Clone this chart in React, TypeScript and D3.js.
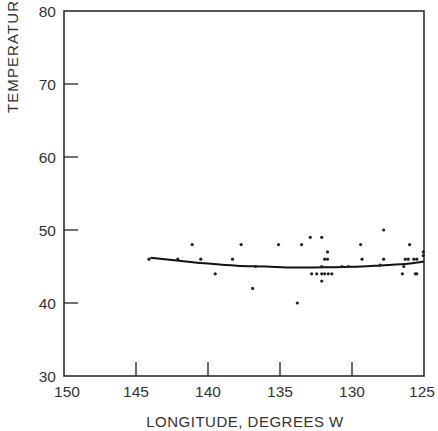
import React from "react";
import * as d3 from "d3";

const xTicks = [150, 145, 140, 135, 130, 125];
const yTicks = [30, 40, 50, 60, 70, 80];

const obsLon = [144.1, 141.1, 142.1, 140.5, 139.5, 138.3, 137.7, 135.1, 136.7, 136.9, 133.8, 133.5, 132.9, 132.1, 131.7, 131.9, 131.7, 132.1, 132.8, 132.45, 132.1, 131.9, 131.65, 131.4, 132.1, 130.7, 130.25, 129.4, 129.3, 127.8, 127.8, 128.05, 126.0, 126.4, 126.5, 126.3, 126.1, 125.7, 125.5, 125.6, 125.5, 125.05, 125.05];
const obsTemp = [46, 48, 46, 46, 44, 46, 48, 48, 45, 42, 40, 48, 49, 49, 47, 46, 46, 45, 44, 44, 44, 44, 44, 44, 43, 45, 45, 48, 46, 50, 46, 45.2, 48, 45, 44, 46, 46, 46, 46, 44, 44, 47, 46.5];

const fitLon = [144, 143, 142, 140, 138, 136, 134, 132, 130, 128, 126, 125];
const fitTemp = [46.2, 46.0, 45.8, 45.4, 45.1, 45.0, 44.85, 44.9, 44.95, 45.15, 45.4, 45.7];

export default function App() {
  const W = 438, H = 431;
  const x = d3.scaleLinear().domain([150, 125]).range([64, 424]);
  const y = d3.scaleLinear().domain([30, 80]).range([376, 11]);
  const line = d3
    .line<number>()
    .x((_, i) => x(fitLon[i]))
    .y((d) => y(d))
    .curve(d3.curveMonotoneX);
  const font = "'Liberation Sans', Arial, sans-serif";
  const tick = 14;
  return (
    <svg width={W} height={H} style={{ position: "absolute", left: 0, top: 0, background: "#fff" }}>
      <rect x={0} y={0} width={W} height={H} fill="#fff" />
      <rect x={x(150)} y={y(80)} width={x(125) - x(150)} height={y(30) - y(80)} fill="none" stroke="#222" strokeWidth={1.5} />
      {yTicks.map((t) => (
        <g key={"y" + t}>
          {t !== 30 && t !== 80 && (
            <line x1={x(150)} x2={x(150) + tick} y1={y(t)} y2={y(t)} stroke="#222" strokeWidth={1.3} />
          )}
          <text x={56} y={y(t)} dy="0.36em" textAnchor="end" fontFamily={font} fontSize={15.5} fill="#333">
            {t}
          </text>
        </g>
      ))}
      {xTicks.map((t) => (
        <g key={"x" + t}>
          {t !== 150 && t !== 125 && (
            <line x1={x(t)} x2={x(t)} y1={y(30)} y2={y(30) - tick} stroke="#222" strokeWidth={1.3} />
          )}
          <text x={x(t) + (t === 150 ? 3 : t === 125 ? -2 : 0)} y={397} textAnchor="middle" fontFamily={font} fontSize={15.5} fill="#333">
            {t}
          </text>
        </g>
      ))}
      <text x={245} y={427} textAnchor="middle" fontFamily={font} fontSize={15} letterSpacing={0.5} fill="#333">
        LONGITUDE, DEGREES W
      </text>
      <text
        transform={`translate(18,113) rotate(-90)`}
        textAnchor="start"
        fontFamily={font}
        fontSize={15}
        textLength={112}
        lengthAdjust="spacing"
        fill="#333"
      >
        TEMPERATUR
      </text>
      <path d={line(fitTemp) || ""} fill="none" stroke="#111" strokeWidth={2} />
      {obsLon.map((lon, i) => (
        <circle key={"p" + i} cx={x(lon)} cy={y(obsTemp[i])} r={1.6} fill="#222" />
      ))}
    </svg>
  );
}
